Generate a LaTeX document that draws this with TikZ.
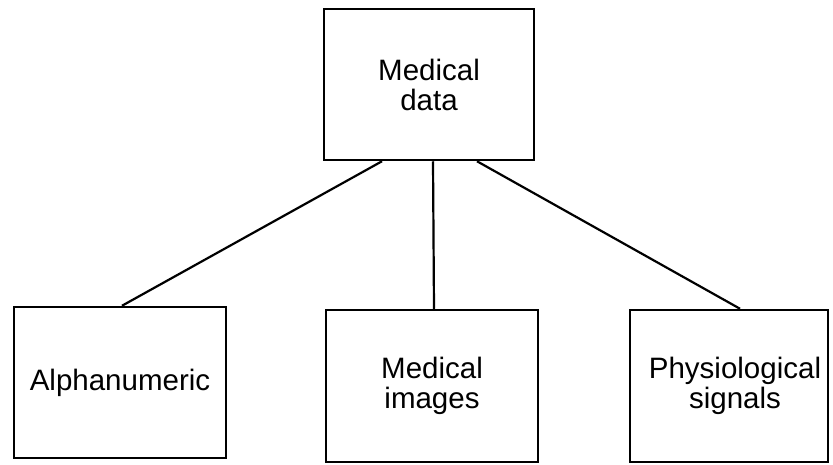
\documentclass[tikz,border=0pt]{standalone}
\usepackage{fontspec}
\setmainfont{Liberation Sans}
\begin{document}
\begin{tikzpicture}[x=1pt,y=1pt,
  box/.style={draw=black,line width=2.5pt,inner sep=0pt,align=center,font=\fontsize{29.5}{30}\selectfont},
  link/.style={line width=2.2pt}]
\useasboundingbox (0,0) rectangle (833,-464);
\node[box,minimum width=210pt,minimum height=151pt] (top) at (429,-84.5) {Medical\\data};
\node[box,minimum width=212pt,minimum height=151pt] (alpha) at (120,-382.5) {Alphanumeric};
\node[box,minimum width=212pt,minimum height=152pt] (img) at (432,-386) {Medical\\images};
\node[box,minimum width=198pt,minimum height=152pt] (sig) at (729,-386) {\hspace*{12pt}Physiological\\\hspace*{12pt}signals};
\draw[link] ([xshift=-47pt]top.south) -- ([xshift=2pt]alpha.north);
\draw[link] ([xshift=4pt]top.south) -- ([xshift=2pt]img.north);
\draw[link] ([xshift=48pt]top.south) -- ([xshift=11pt]sig.north);
\end{tikzpicture}
\end{document}
